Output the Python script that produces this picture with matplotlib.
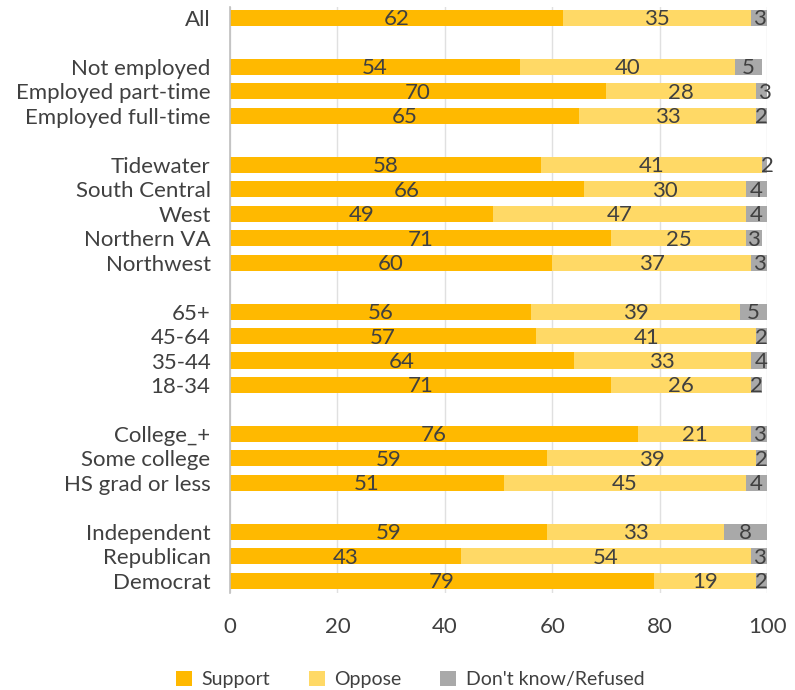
import matplotlib.pyplot as plt
import numpy as np

plt.rcParams['font.family'] = ['Lato', 'DejaVu Sans']

# rows top to bottom, None = gap row
labels = ['All', None,
          'Not employed', 'Employed part-time', 'Employed full-time', None,
          'Tidewater', 'South Central', 'West', 'Northern VA', 'Northwest', None,
          '65+', '45-64', '35-44', '18-34', None,
          'College_+', 'Some college', 'HS grad or less', None,
          'Independent', 'Republican', 'Democrat']
support = [62, None, 54, 70, 65, None, 58, 66, 49, 71, 60, None,
           56, 57, 64, 71, None, 76, 59, 51, None, 59, 43, 79]
oppose = [35, None, 40, 28, 33, None, 41, 30, 47, 25, 37, None,
          39, 41, 33, 26, None, 21, 39, 45, None, 33, 54, 19]
dontknow = [3, None, 5, 3, 2, None, 2, 4, 4, 3, 3, None,
            5, 2, 4, 2, None, 3, 2, 4, None, 8, 3, 2]

series = ['Support', 'Oppose', "Don't know/Refused"]
colors = ['#FFB900', '#FFD966', '#A9A9A9']
txt = '#404040'
fs = 16

fig = plt.figure(figsize=(7.95, 6.9), dpi=100)
ax = fig.add_axes([0.2893, 0.1406, 0.6755, 0.8493])

idx = [i for i, l in enumerate(labels) if l is not None]
ypos = np.array(idx)
s = np.array([support[i] for i in idx], dtype=float)
o = np.array([oppose[i] for i in idx], dtype=float)
d = np.array([dontknow[i] for i in idx], dtype=float)

h = 0.66
lefts = np.zeros(len(idx))
for vals, col, name in zip([s, o, d], colors, series):
    ax.barh(ypos, vals, left=lefts, height=h, color=col, label=name, zorder=2)
    for y, l, v in zip(ypos, lefts, vals):
        ax.text(l + v / 2, y + 0.06, f'{int(v)}', ha='center', va='center',
                fontsize=fs, color=txt, zorder=3, clip_on=False)
    lefts = lefts + vals

ax.set_xlim(0, 100)
ax.set_ylim(len(labels) - 0.5, -0.45)
ax.set_yticks(ypos)
ax.set_yticklabels([labels[i] for i in idx], fontsize=fs, color=txt)
ax.set_xticks([0, 20, 40, 60, 80, 100])
ax.tick_params(axis='x', labelsize=fs, colors=txt, length=0, pad=17)
ax.tick_params(axis='y', length=0, pad=14)
ax.grid(axis='x', color='#E0E0E0', linewidth=1, zorder=0)
for sp in ['top', 'right', 'bottom']:
    ax.spines[sp].set_visible(False)
ax.spines['left'].set_color('#BFBFBF')
ax.spines['left'].set_linewidth(1.2)
ax.spines['left'].set_zorder(4)

fig.legend(loc='center', bbox_to_anchor=(0.516, 0.015), ncol=3,
           frameon=False, fontsize=14, labelcolor=txt, handlelength=0.8,
           handleheight=0.8, handletextpad=0.5, columnspacing=2.0,
           borderpad=0.1)

fig.savefig('out.png', dpi=100)
